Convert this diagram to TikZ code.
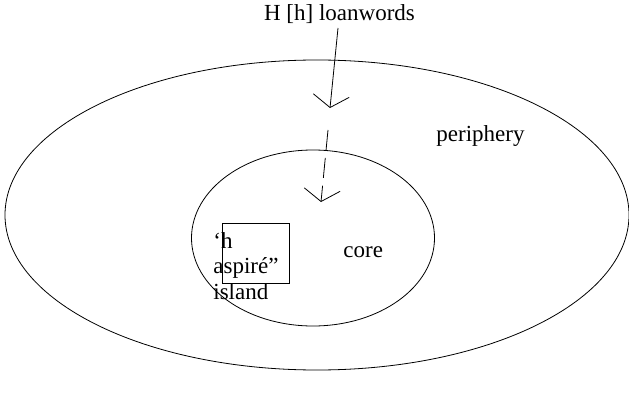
\documentclass[tikz,border=0pt]{standalone}
\usepackage{fontspec}
\setmainfont{Liberation Serif}
\usetikzlibrary{arrows.meta,shapes.geometric}
\begin{document}
\begin{tikzpicture}[x=1pt,y=-1pt,
  line width=0.8pt,
  label text/.style={font=\fontsize{23}{25.5}\selectfont, inner sep=0pt},
  vtip/.style={-{Straight Barb[length=12pt,width=36pt,line width=0.8pt]}}]
  \useasboundingbox (0,0) rectangle (629,401);
  % domains
  \node[draw, ellipse, minimum width=624pt, minimum height=310pt, inner sep=0pt] (periphery) at (317,215) {};
  \node[draw, ellipse, minimum width=243pt, minimum height=176pt, inner sep=0pt] (core) at (313,238) {};
  % island box
  \node[draw, minimum width=67pt, minimum height=60pt, inner sep=0pt] (box) at (255.5,253) {};
  % labels
  \node[label text, anchor=base] (title) at (339.5,21) {H [h] loanwords};
  \node[label text, anchor=base west] (perlab) at (436,142) {periphery};
  \node[label text, anchor=base west] (corelab) at (343,257) {core};
  \node[label text, anchor=base west, align=left] (islab) at (213,299) {‘h\\aspiré”\\island};
  % arrows
  \coordinate (a1s) at (338,28);
  \coordinate (a1e) at (330,108);
  \coordinate (a2s) at (328,130);
  \coordinate (a2e) at (321,202);
  \draw[vtip] (a1s) -- (a1e);
  \draw[vtip, dash pattern=on 20pt off 8pt] (a2s) -- (a2e);
\end{tikzpicture}
\end{document}
